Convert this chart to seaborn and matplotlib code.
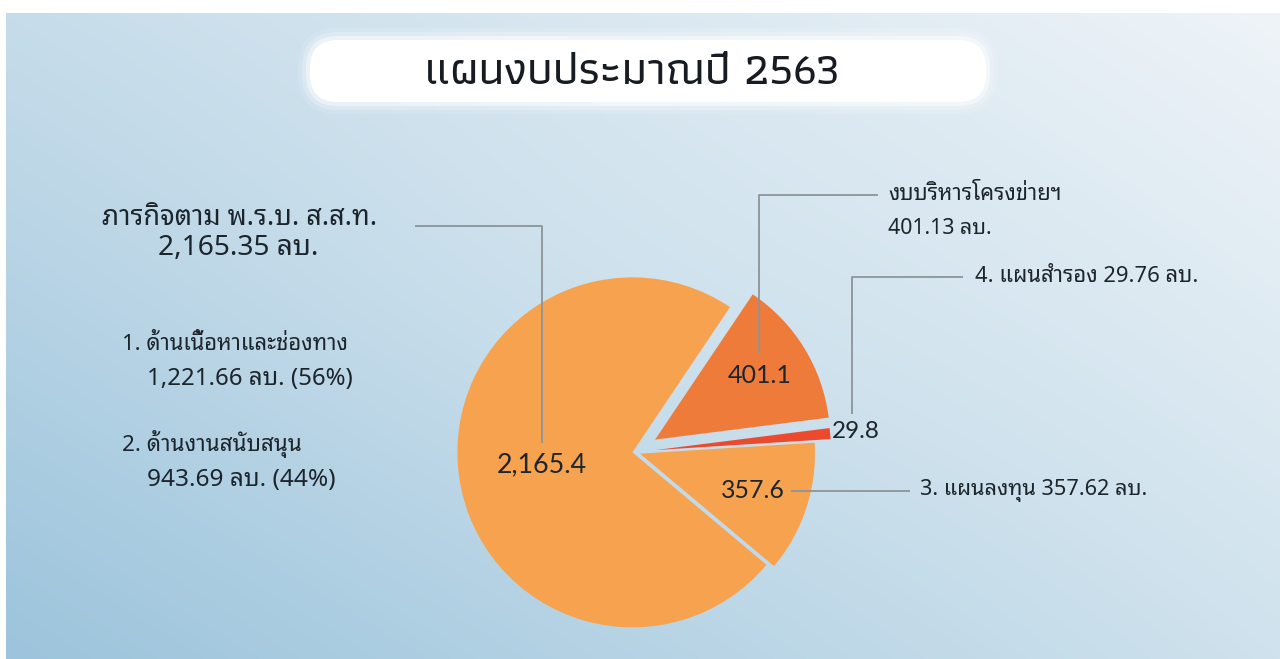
import numpy as np
import matplotlib
matplotlib.use("Agg")
import matplotlib.pyplot as plt
from matplotlib.patches import FancyBboxPatch
import seaborn as sns

# ---------------- data ----------------
title = "แผนงบประมาณปี 2563"
slice_names = ["แผนลงทุน", "แผนสำรอง", "งบบริหารโครงข่ายฯ", "ภารกิจตาม พ.ร.บ. ส.ส.ท."]
slice_values = [357.62, 29.76, 401.13, 2165.35]
slice_labels = ["357.6", "29.8", "401.1", "2,165.4"]
main_lines = ["ภารกิจตาม พ.ร.บ. ส.ส.ท.", "2,165.35 ลบ."]
sub_lines = ["1. ด้านเนื้อหาและช่องทาง", "1,221.66 ลบ. (56%)",
             "2. ด้านงานสนับสนุน", "943.69 ลบ. (44%)"]
network_lines = ["งบบริหารโครงข่ายฯ", "401.13 ลบ."]
reserve_line = "4. แผนสำรอง 29.76 ลบ."
invest_line = "3. แผนลงทุน 357.62 ลบ."

# ---------------- style ----------------
sns.set_theme(style="white")
BODY = ["Noto Sans Thai Looped", "Loma", "DejaVu Sans"]
plt.rcParams["font.family"] = BODY
colors = sns.color_palette(["#F7A24F", "#EC4A2C", "#EF7B3B", "#F7A24F"])
TXT = "#1c252b"
LINE = "#8d9499"

W, H = 1280, 659
fig = plt.figure(figsize=(12.8, 6.59), dpi=100, facecolor="white")
ax = fig.add_axes([0, 0, 1, 1])
ax.set_axis_off()

# background gradient (bilinear between corner colours)
def hx(c):
    return np.array([int(c[i:i + 2], 16) for i in (1, 3, 5)]) / 255.0
tl, tr, bl, br = hx("#c6dcea"), hx("#eff4f8"), hx("#9cc4dc"), hx("#cfe2ed")
gy, gx = np.mgrid[0:1:200j, 0:1:400j]
grad = ((1 - gy)[..., None] * ((1 - gx)[..., None] * tl + gx[..., None] * tr)
        + gy[..., None] * ((1 - gx)[..., None] * bl + gx[..., None] * br))
mid = np.exp(-(((gx - 0.55) / 0.35) ** 2 + ((gy - 0.35) / 0.35) ** 2))
grad = grad * (1 - 0.25 * mid[..., None]) + 0.25 * mid[..., None] * hx("#dceaf2")
ax.imshow(grad, extent=(6, W, H, 13), aspect="auto", zorder=0, interpolation="bilinear")

# title banner
for pad, a in [(12, 0.12), (8, 0.22), (4, 0.45)]:
    ax.add_patch(FancyBboxPatch((310 - pad, 40 - pad), 676 + 2 * pad, 62 + 2 * pad,
                                boxstyle="round,pad=0,rounding_size=%d" % (28 + pad),
                                facecolor="white", edgecolor="none", alpha=a, zorder=1))
ax.add_patch(FancyBboxPatch((310, 40), 676, 62, boxstyle="round,pad=0,rounding_size=28",
                            facecolor="white", edgecolor="none", zorder=1))

# pie
R = 175
cx, cy = 635, 452
explode_frac = [0.03, 0.12, 0.135, 0.015]
wedges, _ = ax.pie(slice_values, colors=colors, radius=R, center=(cx, cy),
                   startangle=40, counterclock=False,
                   explode=[e * R for e in explode_frac],
                   frame=True, wedgeprops=dict(linewidth=0), normalize=True)
for w in wedges:
    w.set_zorder(2)
ax.set_xlim(0, W)
ax.set_ylim(H, 0)
ax.set_aspect("auto")

fig.canvas.draw()
renderer = fig.canvas.get_renderer()

def fit(t, target):
    bb = t.get_window_extent(renderer)
    t.set_fontsize(t.get_fontsize() * target / bb.width)
    return t

# slice value labels
fracs = [0.68, 1.15, 0.7, 0.52]
widths = [64, 48, 64, 90]
lab_pos = []
for w, lbl, f, tw in zip(wedges, slice_labels, fracs, widths):
    m = np.deg2rad((w.theta1 + w.theta2) / 2)
    x = w.center[0] + f * w.r * np.cos(m)
    y = w.center[1] + f * w.r * np.sin(m)
    lab_pos.append((x, y))
    t = ax.text(x, y, lbl, ha="center", va="center", fontsize=16, color=TXT,
                family=["Lato", "DejaVu Sans"], zorder=4)
    fit(t, tw)

# leader lines
kw = dict(color=LINE, lw=1.3, zorder=3, solid_capstyle="butt")
(x3, y3), (x4, y4), (xn, yn), (xb, yb) = lab_pos
ax.plot([xb, xb, 415], [yb - 22, 226, 226], **kw)
ax.plot([xn, xn, 878], [yn - 22, 195, 195], **kw)
ax.plot([x4 - 4, x4 - 4, 963], [y4 - 17, 277, 277], **kw)
ax.plot([x3 + 38, 910], [y3, y3], **kw)

# title
t = ax.text(632, 73, title, ha="center", va="center", fontsize=30, color="#161c21",
            family=["Athiti", "DejaVu Sans"], fontweight=500, zorder=3)
fit(t, 415)

# left text block
tk = dict(color=TXT, zorder=3, va="center", fontweight="semibold")
fit(ax.text(240, 218, main_lines[0], ha="center", fontsize=18, **tk), 274)
fit(ax.text(238, 248, main_lines[1], ha="center", fontsize=18, **tk), 160)
for s, (x, y, tw) in zip(sub_lines, [(122, 345, 226), (147, 379, 206), (122, 444, 180), (147, 480, 188)]):
    fit(ax.text(x, y, s, ha="left", fontsize=15, **tk), tw)

# right text block
fit(ax.text(888, 195, network_lines[0], ha="left", fontsize=15, **tk), 174)
fit(ax.text(888, 228, network_lines[1], ha="left", fontsize=15, **tk), 104)
fit(ax.text(975, 277, reserve_line, ha="left", fontsize=15, **tk), 223)
fit(ax.text(920, y3, invest_line, ha="left", fontsize=15, **tk), 228)

fig.savefig("out.png", dpi=100, facecolor="white")
